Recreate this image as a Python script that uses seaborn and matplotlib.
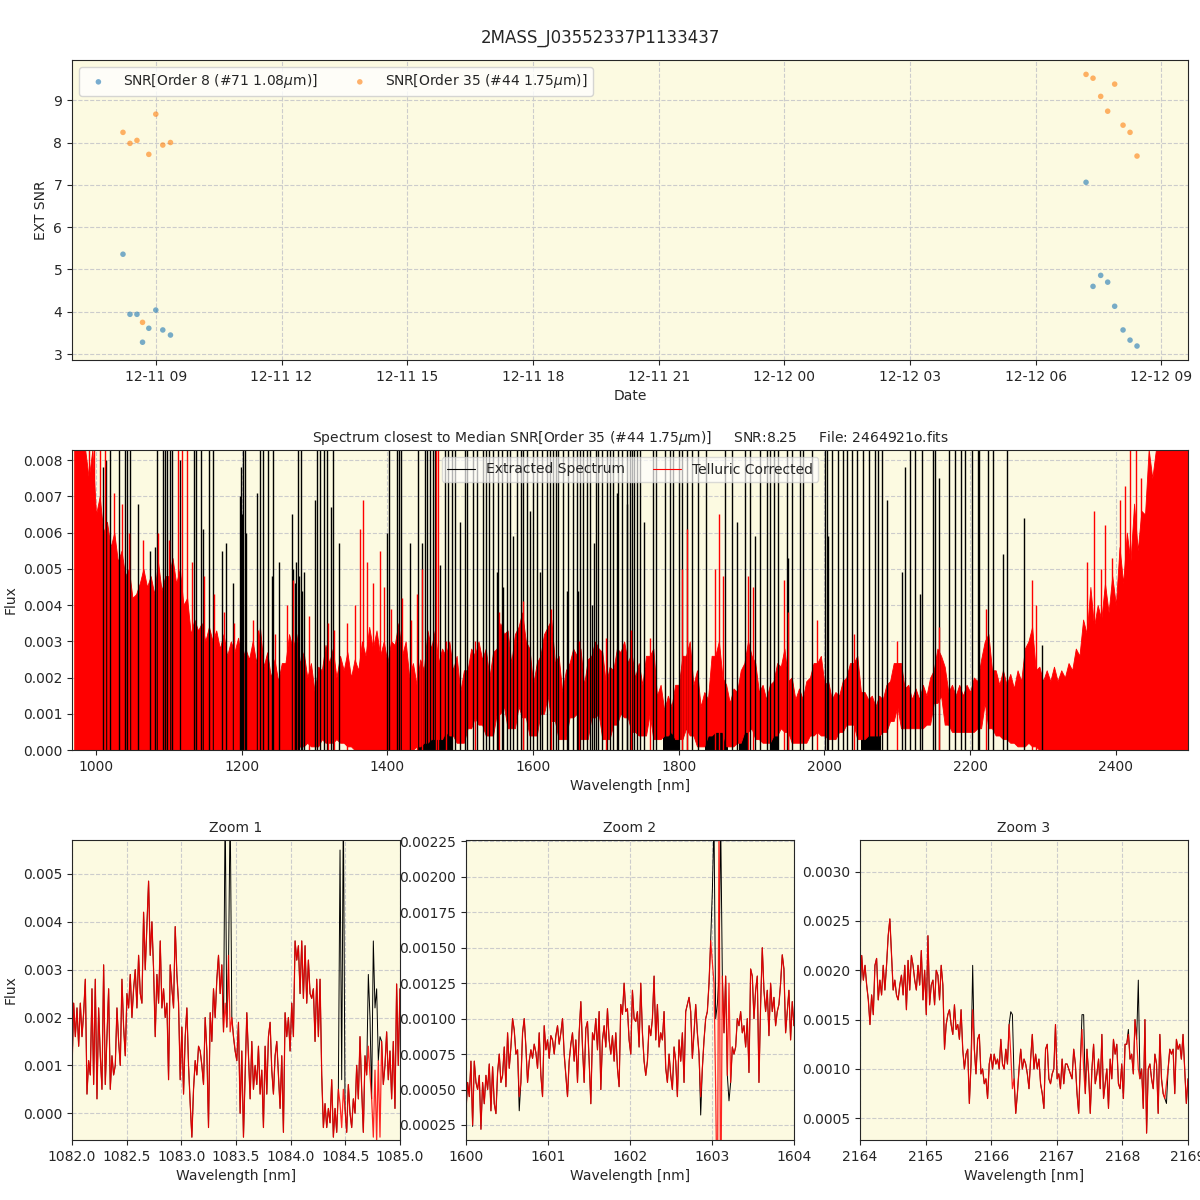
import numpy as np
import pandas as pd
import matplotlib
matplotlib.use("Agg")
import matplotlib.pyplot as plt
import matplotlib.dates as mdates
from matplotlib.lines import Line2D
import seaborn as sns

# ---------------- SNR time series ----------------
obs_times = ["2019-12-11 08:13", "2019-12-11 08:23", "2019-12-11 08:33", "2019-12-11 08:41",
             "2019-12-11 08:50", "2019-12-11 09:00", "2019-12-11 09:10", "2019-12-11 09:21",
             "2019-12-12 07:12", "2019-12-12 07:22", "2019-12-12 07:33", "2019-12-12 07:43",
             "2019-12-12 07:53", "2019-12-12 08:05", "2019-12-12 08:15", "2019-12-12 08:25"]
snr_order8 = [5.36, 3.94, 3.94, 3.28, 3.61, 4.04, 3.57, 3.45,
              7.06, 4.60, 4.86, 4.70, 4.13, 3.57, 3.33, 3.19]
snr_order35 = [8.24, 7.98, 8.05, 3.75, 7.72, 8.67, 7.94, 8.00,
               9.61, 9.52, 9.09, 8.74, 9.38, 8.41, 8.24, 7.68]

# ---------------- full spectrum (flux in 1e-3) ----------------
# telluric corrected band: upper/lower edge every 10 nm from 970 nm
spec_wl0, spec_wl1, spec_step = 970, 2500, 10
red_upper = [8.3, 8.3, 7.5, 6.5, 6.0, 5.6, 5.2, 4.8, 4.2, 4.6,
             4.5, 4.3, 4.4, 4.8, 4.6, 4.0, 3.2, 3.3, 3.0, 3.0,
             2.8, 2.6, 2.7, 2.4, 2.5, 2.4, 2.3, 2.0, 1.9, 2.4,
             2.8, 2.4, 2.0, 1.6, 2.2, 2.4, 2.0, 2.2, 2.0, 2.2,
             2.6, 2.8, 2.6, 2.4, 2.9, 2.6, 2.0, 1.8, 2.2, 2.8,
             2.4, 2.6, 2.2, 1.6, 2.2, 2.6, 2.5, 2.0, 2.8, 3.2,
             2.4, 3.4, 3.0, 1.8, 2.6, 3.4, 2.4, 1.6, 2.4, 2.6,
             1.8, 2.6, 2.8, 1.8, 2.2, 2.7, 2.4, 2.0, 1.8, 2.6,
             1.5, 1.1, 1.2, 1.8, 2.6, 1.8, 1.2, 1.4, 2.6, 2.0,
             1.3, 1.6, 2.4, 2.6, 1.6, 1.4, 1.9, 2.3, 1.9, 1.4,
             1.4, 2.0, 2.4, 1.8, 1.4, 1.5, 2.0, 2.4, 1.6, 1.4,
             1.2, 1.4, 1.9, 2.4, 1.7, 1.4, 1.4, 1.5, 2.2, 2.6,
             1.6, 1.5, 1.5, 1.6, 1.9, 3.0, 2.2, 1.8, 1.8, 1.7,
             1.9, 3.0, 2.2, 1.9, 1.9, 1.9, 2.0, 2.2, 2.6, 3.2,
             3.4, 3.6, 3.8, 4.0, 4.6, 5.2, 5.5, 6.5, 7.5, 8.3,
             8.3, 8.3, 8.3, 8.3]
red_lower = [0, 0, 0, 0, 0, 0, 0, 0, 0, 0,
             0, 0, 0, 0, 0, 0, 0, 0, 0, 0,
             0, 0, 0, 0, 0, 0, 0, 0, 0, 0,
             0, 0.1, 0.2, 0.1, 0.3, 0.2, 0.3, 0.2, 0.1, 0,
             0, 0, 0, 0, 0, 0, 0, 0.1, 0.2, 0.3,
             0.3, 0.5, 0.4, 0.2, 0.6, 0.9, 0.7, 0.4, 1.0, 1.2,
             0.6, 1.2, 0.9, 0.4, 1.0, 1.5, 0.8, 0.3, 0.9, 1.0,
             0.3, 0.9, 1.0, 0.3, 0.7, 1.0, 0.9, 0.5, 0.4, 1.0,
             0.3, 0.4, 0.5, 0.3, 0.6, 0.4, 0.1, 0.4, 0.5, 0.5,
             0.1, 0.2, 0.5, 0.6, 0.3, 0.2, 0.4, 0.6, 0.5, 0.2,
             0.2, 0.4, 0.5, 0.4, 0.3, 0.5, 0.7, 0.7, 0.3, 0.4,
             0.4, 0.5, 0.8, 1.2, 0.6, 0.6, 0.6, 0.7, 1.3, 1.5,
             0.7, 0.5, 0.5, 0.5, 0.6, 1.3, 0.6, 0.4, 0.3, 0.2,
             0.1, 0.2, 0.1, 0, 0, 0, 0, 0, 0, 0,
             0, 0, 0, 0, 0, 0, 0, 0, 0, 0,
             0, 0, 0, 0]
# band top between the 10 nm points (975, 985, ... 2495 nm)
red_mid = [8.3, 8.3, 8.3, 7.0, 6.3, 6.0, 5.5, 5.0, 4.3, 5.0,
           4.8, 5.2, 4.8, 5.3, 5.0, 4.2, 3.6, 3.5, 3.4, 3.3,
           3.2, 3.0, 3.1, 2.8, 3.0, 3.4, 2.7, 2.5, 2.4, 3.2,
           3.2, 2.7, 2.4, 2.3, 2.9, 2.8, 2.6, 2.7, 2.5, 3.0,
           3.4, 3.3, 3.0, 3.0, 3.5, 3.0, 2.4, 2.5, 3.3, 3.3,
           2.8, 3.0, 2.6, 2.2, 2.8, 3.0, 2.8, 2.7, 3.5, 3.3,
           3.2, 3.8, 2.8, 2.4, 3.2, 3.6, 2.6, 2.2, 2.8, 2.8,
           2.5, 3.0, 2.7, 2.3, 2.8, 3.0, 2.7, 2.4, 2.6, 2.8,
           1.8, 1.5, 1.8, 2.6, 3.0, 2.2, 1.6, 2.6, 3.0, 1.8,
           1.7, 2.2, 3.0, 2.4, 1.8, 1.8, 2.4, 2.8, 2.0, 1.7,
           1.9, 2.4, 2.6, 1.9, 1.6, 1.9, 2.4, 2.6, 1.6, 1.5,
           1.5, 1.8, 2.4, 2.4, 1.8, 1.7, 1.8, 2.0, 2.8, 2.3,
           1.8, 1.8, 1.8, 2.0, 2.5, 3.2, 2.2, 2.2, 2.1, 2.2,
           2.8, 3.4, 2.3, 2.2, 2.3, 2.2, 2.4, 2.8, 3.6, 4.5,
           4.0, 4.6, 4.8, 5.6, 6.0, 6.8, 6.6, 8.3, 8.3, 8.3,
           8.3, 8.3, 8.3]
red_spike_wl = [990, 997, 1005, 1012, 1025, 1035, 1045, 1065, 1085, 1100,
                1112, 1118, 1125, 1132, 1148, 1162, 1175, 1190, 1215, 1222,
                1245, 1262, 1270, 1292, 1318, 1326, 1345, 1355, 1362, 1366,
                1372, 1380, 1390, 1395, 1405, 1420, 1432, 1440, 1448, 1466,
                1470, 1480, 1520, 1553, 1586, 1625, 1663, 1700, 1735, 1760,
                1805, 1811, 1850, 1855, 1860, 1895, 1902, 1945, 1950, 1990,
                2040, 2100, 2157, 2222, 2285, 2290, 2360, 2370, 2380, 2385,
                2395, 2405, 2412, 2420, 2428, 2435]
red_spike_h = [8.3, 8.3, 8.3, 8.3, 7.1, 6.8, 6.0, 5.8, 6.0, 5.8,
               8.3, 8.3, 8.3, 5.2, 4.8, 4.3, 3.8, 3.5, 3.6, 3.3,
               3.2, 4.0, 4.7, 3.7, 3.5, 3.3, 3.5, 4.0, 6.1, 6.9,
               5.2, 4.6, 5.5, 4.5, 3.9, 4.2, 3.6, 4.3, 5.0, 8.3,
               8.3, 3.0, 3.0, 3.8, 4.1, 3.9, 3.0, 3.1, 3.3, 3.1,
               5.0, 6.1, 5.0, 6.5, 4.8, 4.8, 4.5, 4.7, 3.8, 3.6,
               3.2, 3.0, 3.4, 3.9, 4.7, 4.0, 5.2, 6.6, 5.0, 6.2,
               5.3, 6.9, 7.3, 8.3, 8.3, 7.5]
# extracted spectrum: telluric spikes
black_top_wl = [1019, 1032, 1040, 1043, 1047, 1084, 1092, 1095, 1097, 1102, 1104,
                1135, 1137, 1144, 1155, 1161, 1202, 1204, 1225, 1229, 1236, 1243,
                1277, 1281, 1303, 1307, 1313, 1317, 1325, 1402, 1413, 1416, 1419,
                1442, 1452, 1454, 1458, 1463, 1465, 1479, 1483, 1489, 1493, 1506,
                1509, 1517, 1523, 1531, 1535, 1539, 1545, 1552, 1557, 1564, 1568,
                1578, 1583, 1586, 1592, 1600, 1605, 1612, 1619, 1623, 1627, 1631,
                1634, 1641, 1648, 1655, 1660, 1664, 1668, 1674, 1678, 1686, 1689,
                1694, 1701, 1705, 1710, 1716, 1722, 1729, 1733, 1736, 1738, 1743,
                1747, 1764, 1769, 1781, 1788, 1792, 1800, 1805, 1811, 1818, 1826,
                1837, 1863, 1873, 1891, 1898, 1911, 1921, 1925, 1931, 1936, 1948,
                1955, 1966, 1970, 1983, 2001, 2003, 2010, 2018, 2025, 2031, 2038,
                2044, 2053, 2061, 2069, 2073, 2079, 2117, 2124, 2134, 2149, 2152,
                2171, 2179, 2187, 2193, 2202, 2211, 2212, 2224, 2231, 2250]
black_part_wl = [1010, 1014, 1058, 1074, 1081, 1115, 1147, 1173, 1178, 1188,
                 1197, 1199, 1200, 1206, 1221, 1242, 1251, 1269, 1270, 1273,
                 1275, 1279, 1283, 1286, 1301, 1322, 1334, 1399, 1431, 1447,
                 1472, 1500, 1550, 1559, 1572, 1596, 1609, 1646, 1662, 1681,
                 1683, 1715, 1729, 1752, 1880, 1905, 1950, 2005, 2086, 2106,
                 2110, 2131, 2157, 2245, 2274, 2298]
black_part_h = [7.8, 8.0, 6.8, 5.5, 5.6, 8.0, 6.1, 5.5, 5.7, 4.6,
                7.0, 7.8, 6.5, 6.0, 7.1, 4.8, 5.2, 6.5, 5.0, 4.6,
                5.2, 4.8, 4.4, 4.9, 6.9, 6.7, 5.7, 6.0, 5.7, 5.7,
                5.1, 6.3, 4.9, 4.5, 5.9, 6.6, 4.9, 4.4, 4.4, 4.0,
                5.7, 7.1, 6.8, 6.3, 6.3, 5.9, 5.3, 5.9, 6.9, 4.9,
                7.8, 4.3, 7.5, 5.4, 6.4, 2.9]
black_band_start = [1440, 1778, 1836, 1882, 1925, 2050]
black_band_end = [1490, 1802, 1868, 1895, 1937, 2078]
black_band_h = [0.9, 0.9, 1.0, 0.6, 0.5, 0.5]

# ---------------- zoom windows (flux in 1e-3) ----------------
zoom1_range = (1082.0, 1085.0)
zoom1_red = [0.9, 2.3, 1.6, 2.2, 1.4, 2.3, 1.6, 2.1, 2.8, 0.4, 1.1, 0.8, 2.6, 0.6, 2.8, 0.3, 2.2, 1.2,
             0.5, 3.1, 0.6, 1.6, 2.6, 0.5, 1.2, 0.8, 1.0, 2.2, 1.5, 1.0, 2.8, 1.8, 1.2, 2.5, 2.2, 2.9,
             2.0, 2.6, 3.0, 2.2, 3.3, 2.5, 2.3, 4.2, 3.0, 3.9, 4.85, 3.3, 4.0, 3.0, 1.6, 2.9, 2.3, 3.6,
             2.2, 2.6, 2.0, 2.3, 0.7, 3.1, 2.6, 2.2, 3.9, 2.9, 2.3, 0.7, 1.8, 0.4, 1.6, 2.2, 1.0, 0.2,
             -0.5, 0.5, 1.1, 0.8, 1.4, 1.3, 1.0, 0.6, 2.0, 1.3, -0.3, 2.1, 1.5, 2.6, 2.0, 2.8, 3.3,
             2.5, 3.1, 1.7, 2.3, 1.8, 3.3, 1.7, 2.0, 1.6, 1.3, 1.1, 1.9, 0.0, 1.3, -0.5, 0.8, 2.1,
             1.2, 0.3, 1.5, 0.5, 1.0, 0.6, 1.4, 0.4, 0.9, -0.3, 1.4, 0.4, 1.6, 1.9, 0.9, 0.4, 1.2,
             1.5, 0.8, 0.1, 1.2, -0.4, 2.1, 1.6, 2.0, 1.3, 2.3, 1.6, 3.6, 3.2, 3.5, 2.5, 3.6, 2.4,
             3.5, 2.3, 3.2, 2.5, 2.4, 2.6, 1.5, 2.8, 1.6, 2.8, 0.8, -0.3, 0.2, -0.3, 0.1, -0.2, 0.7,
             -0.5, 0.1, -0.4, 0.5, 0.2, -0.3, 0.5, 0.1, -0.4, 0.6, 0.0, -0.3, 0.3, 0.0, 1.0, 0.3,
             1.6, 0.5, -0.4, 1.2, 0.8, 1.4, 0.8, 0.3, -0.5, 0.9, -0.6, 1.1, -0.5, 1.5, 0.6, 1.0,
             1.7, 0.7, 1.3, 0.3, 1.5, 0.1, 2.7, 1.0, 2.6]
zoom1_black_wl = [1083.407, 1083.425, 1083.443, 1084.450, 1084.469, 1084.487,
                  1084.710, 1084.731, 1084.750, 1084.771, 1084.786, 1084.817]
zoom1_black_val = [6.5, 3.0, 6.5, 5.5, 0.7, 6.5, 2.9, 2.0, 3.6, 2.2, 2.6, 1.6]

zoom2_range = (1600.0, 1604.0)
zoom2_red = [0.35, 0.55, 0.45, 0.70, 0.25, 0.70, 0.55, 0.50, 0.60, 0.22, 0.55, 0.40, 0.60, 0.50,
             0.68, 0.35, 0.66, 0.40, 0.33, 0.62, 0.75, 0.55, 0.60, 0.80, 0.52, 0.90, 0.65, 0.80,
             1.00, 0.92, 0.75, 0.78, 0.45, 0.55, 0.90, 1.00, 0.80, 0.55, 0.70, 0.78, 0.72, 0.82,
             0.76, 0.65, 0.90, 0.60, 0.45, 0.95, 0.78, 0.85, 0.72, 0.88, 0.85, 0.75, 0.88, 0.95,
             0.82, 0.90, 1.00, 0.75, 0.60, 0.45, 0.70, 0.82, 0.90, 0.70, 0.85, 0.55, 0.90, 1.12,
             0.80, 0.55, 0.93, 0.98, 0.70, 0.40, 0.90, 0.85, 1.00, 0.78, 1.05, 0.50, 0.85, 0.95,
             0.80, 1.07, 0.85, 0.75, 0.88, 0.70, 0.90, 0.65, 0.52, 1.10, 1.03, 1.25, 1.05, 1.07,
             0.85, 0.75, 1.20, 1.00, 0.98, 1.05, 0.80, 1.25, 0.90, 0.70, 0.60, 0.70, 0.95, 0.88,
             1.00, 1.30, 0.85, 1.10, 0.80, 0.90, 0.85, 1.05, 0.65, 0.55, 0.75, 0.60, 0.50, 0.80,
             0.70, 0.45, 0.85, 0.70, 0.90, 0.55, 1.05, 1.10, 1.15, 1.05, 0.72, 0.90, 1.10, 0.90,
             0.75, 0.45, 0.65, 0.85, 1.00, 1.05, 1.25, 1.55, 1.40, 1.25, 0.50, -0.5, 2.4, -0.5,
             1.30, 0.90, 1.30, 0.60, 1.25, 0.55, 0.80, 0.75, 0.80, 1.00, 0.95, 1.05, 0.90, 0.95,
             0.80, 1.00, 0.62, 1.35, 1.30, 1.00, 1.20, 1.30, 0.55, 1.10, 1.50, 1.20, 1.05, 1.20,
             0.88, 1.25, 1.05, 1.15, 0.95, 1.05, 1.10, 1.25, 1.45, 1.35, 0.90, 1.05, 1.20, 0.85,
             1.12, 0.95]
zoom2_black_wl = [1600.08, 1600.65, 1602.87, 1603.01, 1603.03, 1603.05, 1603.07,
                  1603.09, 1603.11, 1603.13, 1603.215]
zoom2_black_val = [0.24, 0.35, 0.32, 1.9, 2.4, 1.0, 1.1, 1.3, 2.4, 1.3, 0.42]

zoom3_range = (2164.0, 2169.0)
zoom3_red = [1.75, 2.15, 1.90, 2.05, 1.85, 1.70, 1.45, 1.75, 1.55, 2.05, 2.12, 1.70, 1.90, 1.75,
             2.05, 1.80, 2.05, 2.35, 2.52, 2.15, 1.80, 1.90, 1.75, 1.70, 1.85, 1.95, 1.75, 2.05,
             1.60, 2.10, 1.80, 2.15, 2.05, 1.90, 1.80, 2.05, 1.85, 2.20, 1.70, 2.00, 1.55, 2.35,
             1.65, 1.85, 1.90, 1.65, 2.00, 1.95, 1.70, 2.05, 1.85, 1.20, 1.45, 1.55, 1.60, 1.45,
             1.35, 1.65, 1.40, 1.45, 1.30, 1.60, 1.20, 1.00, 1.15, 1.20, 0.65, 1.05, 1.60, 1.20,
             0.95, 1.30, 1.35, 0.95, 1.00, 0.85, 0.90, 0.70, 1.05, 1.15, 1.00, 1.15, 1.05, 1.10,
             1.00, 1.30, 1.05, 1.00, 1.20, 1.05, 1.45, 1.15, 0.80, 0.90, 0.55, 0.75, 1.00, 1.20,
             1.00, 1.10, 1.05, 0.95, 0.80, 1.10, 1.35, 1.00, 1.15, 1.00, 1.10, 0.85, 0.75, 0.60,
             1.20, 1.25, 0.90, 0.85, 0.95, 1.00, 1.45, 0.90, 0.95, 0.80, 1.10, 0.85, 1.05, 1.05,
             1.00, 0.95, 0.90, 1.20, 1.05, 0.75, 0.55, 1.05, 1.40, 1.00, 0.75, 1.20, 0.95, 0.55,
             1.00, 1.25, 0.85, 0.95, 1.10, 0.80, 1.35, 0.70, 0.85, 1.00, 0.60, 1.10, 0.90, 1.30,
             1.15, 1.25, 0.85, 0.80, 1.05, 0.70, 1.25, 1.25, 1.35, 1.10, 1.15, 0.95, 1.50, 1.30,
             1.00, 0.90, 1.00, 0.60, 1.50, 0.35, 1.00, 1.05, 0.90, 0.80, 1.15, 1.05, 0.55, 1.35,
             0.90, 0.75, 0.70, 0.85, 1.00, 1.20, 1.15, 1.20, 0.75, 1.30, 1.20, 1.25, 1.10, 1.35,
             1.00, 0.65, 0.90]
zoom3_black_wl = [2165.71, 2166.30, 2166.33, 2167.39, 2167.42, 2168.10, 2168.23, 2168.66]
zoom3_black_val = [2.05, 1.58, 1.55, 1.55, 1.55, 1.40, 1.90, 0.65]

BG = "#fcfae1"
sns.set_style("ticks")
plt.rcParams["font.family"] = ["DejaVu Sans"]


def style_ax(ax):
    ax.set_facecolor(BG)
    ax.grid(True, linestyle="--", color="#cccccc", linewidth=0.8)
    ax.set_axisbelow(True)


def with_black(wl, red, bwl, bval):
    out = np.array(red, dtype=float).copy()
    for w, v in zip(bwl, bval):
        out[np.argmin(np.abs(wl - w))] = v
    return out


fig = plt.figure(figsize=(12, 12), dpi=100)
fig.suptitle("2MASS_J03552337P1133437", fontsize=12, y=0.976)

# ---- top: SNR vs date ----
ax0 = fig.add_axes([0.06, 0.70, 0.93, 0.25])
style_ax(ax0)
t = pd.to_datetime(obs_times)
sns.scatterplot(x=t, y=snr_order8, ax=ax0, color="tab:blue", s=16, alpha=0.6,
                edgecolor="none", label=r"SNR[Order 8 (#71 1.08$\mu$m)]")
sns.scatterplot(x=t, y=snr_order35, ax=ax0, color="tab:orange", s=16, alpha=0.6,
                edgecolor="none", label=r"SNR[Order 35 (#44 1.75$\mu$m)]")
ax0.set_xlim(pd.Timestamp("2019-12-11 07:00"), pd.Timestamp("2019-12-12 09:38"))
ax0.set_ylim(2.86, 9.95)
ax0.xaxis.set_major_locator(mdates.HourLocator(byhour=range(0, 24, 3)))
ax0.xaxis.set_major_formatter(mdates.DateFormatter("%m-%d %H"))
ax0.set_xlabel("Date")
ax0.set_ylabel("EXT SNR")
ax0.legend(loc="upper left", ncol=2, fontsize=10)

# ---- middle: full spectrum ----
ax1 = fig.add_axes([0.06, 0.375, 0.93, 0.25])
style_ax(ax1)
sc = 1e-3
wl = np.arange(spec_wl0, spec_wl1 + 1, spec_step)
wl_mid = wl[:-1] + spec_step / 2
# edge of the band: 10 nm points interleaved with the in-between tops
edge_x = np.empty(len(wl) + len(wl_mid))
edge_x[0::2], edge_x[1::2] = wl, wl_mid
edge_top = np.empty_like(edge_x)
edge_top[0::2], edge_top[1::2] = red_upper, red_mid
edge_bot = np.empty_like(edge_x)
lo = np.array(red_lower, dtype=float)
edge_bot[0::2], edge_bot[1::2] = lo, np.minimum(lo[:-1], lo[1:])

for s, e, h in zip(black_band_start, black_band_end, black_band_h):
    ax1.fill_between([s, e], 0, h * sc, color="black", lw=0)
ax1.vlines(black_top_wl, 0, 9 * sc, color="black", lw=1.0)
ax1.vlines(black_part_wl, 0, np.array(black_part_h) * sc, color="black", lw=1.0)
ax1.fill_between(edge_x, edge_bot * sc, edge_top * sc, color="red", lw=0.6, edgecolor="red")
ax1.vlines(red_spike_wl, 0, np.array(red_spike_h) * sc, color="red", lw=1.0)
ax1.set_xlim(967, 2499)
ax1.set_ylim(0, 0.00828)
ax1.set_xlabel("Wavelength [nm]")
ax1.set_ylabel("Flux")
ax1.set_title(r"Spectrum closest to Median SNR[Order 35 (#44 1.75$\mu$m)]     SNR:8.25     "
              r"File: 2464921o.fits", fontsize=10)
handles = [Line2D([], [], color="black", lw=0.8), Line2D([], [], color="red", lw=0.8)]
ax1.legend(handles, ["Extracted Spectrum", "Telluric Corrected"], loc="upper center",
           ncol=2, fontsize=10, framealpha=0.7)

# ---- bottom: zooms ----
zooms = [
    (0.06, zoom1_range, zoom1_red, zoom1_black_wl, zoom1_black_val, (-0.00056, 0.00571),
     np.arange(0, 0.0051, 0.001), "%.3f", np.arange(1082.0, 1085.01, 0.5), "%.1f"),
    (0.3883, zoom2_range, zoom2_red, zoom2_black_wl, zoom2_black_val, (0.000144, 0.00226),
     np.arange(0.00025, 0.00226, 0.00025), "%.5f", np.arange(1600, 1604.01, 1), "%d"),
    (0.7167, zoom3_range, zoom3_red, zoom3_black_wl, zoom3_black_val, (0.00028, 0.00332),
     np.arange(0.0005, 0.00301, 0.0005), "%.4f", np.arange(2164, 2169.01, 1), "%d"),
]
for i, (left, rng, red, bwl, bval, ylim, yt, yfmt, xt, xfmt) in enumerate(zooms):
    ax = fig.add_axes([left, 0.05, 0.2733, 0.25])
    style_ax(ax)
    zwl = np.linspace(rng[0], rng[1], len(red))
    black = with_black(zwl, red, bwl, bval)
    sns.lineplot(x=zwl, y=black * sc, ax=ax, color="black", lw=0.7, estimator=None, sort=False)
    sns.lineplot(x=zwl, y=np.array(red) * sc, ax=ax, color="red", lw=0.9, alpha=0.85,
                 estimator=None, sort=False)
    ax.set_xlim(*rng)
    ax.set_ylim(*ylim)
    ax.set_yticks(yt)
    ax.set_yticklabels([yfmt % v for v in yt])
    ax.set_xticks(xt)
    ax.set_xticklabels([xfmt % v for v in xt])
    ax.set_xlabel("Wavelength [nm]")
    ax.set_title("Zoom %d" % (i + 1), fontsize=10)
    if i == 0:
        ax.set_ylabel("Flux")

fig.savefig("out.png", dpi=100)
